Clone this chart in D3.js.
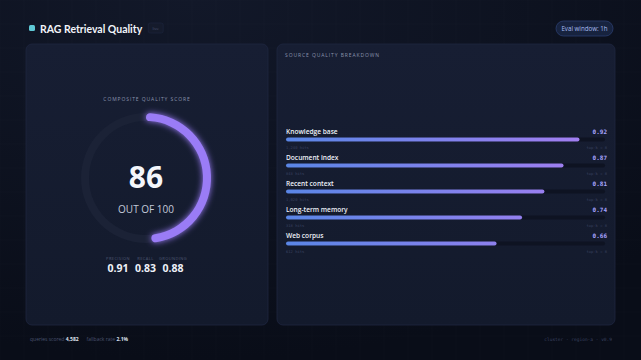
<!DOCTYPE html>
<meta charset="utf-8">
<style>
  html, body {
    margin: 0;
    padding: 0;
    background: #0a0e1a;
    overflow: hidden;
  }

  svg {
    display: block;
    font-family: "Open Sans", "Noto Sans", sans-serif;
  }

  .mono {
    font-family: "DejaVu Sans Mono", "Liberation Mono", monospace;
  }
</style>

<body>
  <svg width="641" height="360"></svg>
</body>
<script src="https://d3js.org/d3.v7.min.js"></script>
<script>
  // data
  var sources = ["Knowledge base", "Document index", "Recent context", "Long-term memory", "Web corpus"];
  var scores = [0.92, 0.87, 0.81, 0.74, 0.66];
  var hits = ["1,240 hits", "843 hits", "1,020 hits", "318 hits", "612 hits"];
  var topk = ["top-k = 8", "top-k = 8", "top-k = 8", "top-k = 8", "top-k = 8"];
  var composite = 86;
  var subLabels = ["PRECISION", "RECALL", "GROUNDING"];
  var subValues = [0.91, 0.83, 0.88];

  var svg = d3.select("svg");
  var defs = svg.append("defs");

  // background
  var bg = defs.append("radialGradient").attr("id", "bg")
    .attr("cx", "30%").attr("cy", "0%").attr("r", "100%");
  bg.append("stop").attr("offset", "0%").attr("stop-color", "#121829");
  bg.append("stop").attr("offset", "100%").attr("stop-color", "#090d18");
  svg.append("rect").attr("width", 641).attr("height", 360).attr("fill", "url(#bg)");

  var grid = svg.append("g").attr("stroke", "#ffffff").attr("stroke-opacity", 0.018);
  d3.range(0, 641, 24).forEach(function (x) {
    grid.append("line").attr("x1", x).attr("x2", x).attr("y1", 0).attr("y2", 360);
  });
  d3.range(0, 360, 24).forEach(function (y) {
    grid.append("line").attr("x1", 0).attr("x2", 641).attr("y1", y).attr("y2", y);
  });

  // header
  svg.append("rect").attr("x", 29).attr("y", 25).attr("width", 6).attr("height", 6).attr("rx", 1.5)
    .attr("fill", "#5fc9d6");
  var title = svg.append("text").attr("x", 40).attr("y", 32.5).attr("fill", "#f2f4fa")
    .attr("font-family", "Lato, sans-serif")
    .attr("font-size", 10.5).attr("font-weight", 700).text("RAG Retrieval Quality");
  var tEnd = 40 + title.node().getComputedTextLength() + 6;
  svg.append("rect").attr("x", tEnd).attr("y", 23).attr("width", 15).attr("height", 10).attr("rx", 2)
    .attr("fill", "#151b2c").attr("stroke", "#1f2740").attr("stroke-width", 0.6);
  svg.append("text").attr("x", tEnd + 7.5).attr("y", 30).attr("text-anchor", "middle").attr("fill", "#4a5370")
    .attr("font-size", 4).text("live");

  svg.append("rect").attr("x", 556).attr("y", 21).attr("width", 57).attr("height", 15).attr("rx", 7.5)
    .attr("fill", "#17233f").attr("stroke", "#2b3e6e").attr("stroke-width", 0.8);
  svg.append("text").attr("x", 584.5).attr("y", 31).attr("text-anchor", "middle").attr("fill", "#a9bdf0")
    .attr("font-size", 6.2).text("Eval window: 1h");

  // panels
  var pg = defs.append("linearGradient").attr("id", "panel").attr("x1", 0).attr("y1", 0).attr("x2", 0).attr("y2", 1);
  pg.append("stop").attr("offset", "0%").attr("stop-color", "#171e33");
  pg.append("stop").attr("offset", "100%").attr("stop-color", "#131a2c");
  [[26, 44, 242, 281], [277, 44, 338, 281]].forEach(function (p) {
    svg.append("rect").attr("x", p[0]).attr("y", p[1]).attr("width", p[2]).attr("height", p[3]).attr("rx", 6)
      .attr("fill", "url(#panel)").attr("stroke", "#1e2640").attr("stroke-width", 0.8);
  });

  // gauge
  var glow = defs.append("filter").attr("id", "glow").attr("x", "-50%").attr("y", "-50%")
    .attr("width", "200%").attr("height", "200%");
  glow.append("feGaussianBlur").attr("stdDeviation", 3).attr("result", "b");
  var fm = glow.append("feMerge");
  fm.append("feMergeNode").attr("in", "b");
  fm.append("feMergeNode").attr("in", "SourceGraphic");

  var cx = 146, cy = 178, r = 61;
  svg.append("text").attr("x", cx + 1).attr("y", 101).attr("text-anchor", "middle").attr("fill", "#8a93ad")
    .attr("font-size", 5).attr("letter-spacing", 0.9).text("COMPOSITE QUALITY SCORE");

  var angle = d3.scaleLinear().domain([0, 100]).range([0, Math.PI * 1.13]);
  var arc = d3.arc().innerRadius(r - 4).outerRadius(r + 4).cornerRadius(4);
  var gg = svg.append("g").attr("transform", "translate(" + cx + "," + cy + ")");
  gg.append("path").attr("d", arc({ startAngle: 0, endAngle: 2 * Math.PI })).attr("fill", "#1b2236");
  gg.append("path").attr("d", arc({ startAngle: 0, endAngle: angle(composite) }))
    .attr("fill", "#9a7cf6").attr("filter", "url(#glow)");

  gg.append("text").attr("y", 10).attr("text-anchor", "middle").attr("fill", "#f4f6fb")
    .attr("font-size", 30).attr("font-weight", 700).text(composite);
  gg.append("text").attr("y", 35).attr("text-anchor", "middle").attr("fill", "#c3c9da")
    .attr("font-size", 10).text("OUT OF 100");

  var subX = d3.scalePoint().domain(subLabels).range([118, 173]);
  subLabels.forEach(function (l, i) {
    svg.append("text").attr("x", subX(l)).attr("y", 260).attr("text-anchor", "middle").attr("fill", "#4f5873")
      .attr("font-size", 4).attr("letter-spacing", 0.4).text(l);
    svg.append("text").attr("x", subX(l)).attr("y", 272).attr("text-anchor", "middle").attr("fill", "#eef1f8")
      .attr("font-size", 10.5).attr("font-weight", 700).text(subValues[i].toFixed(2));
  });

  // breakdown
  svg.append("text").attr("x", 285).attr("y", 57).attr("fill", "#8a93ad")
    .attr("font-size", 5).attr("letter-spacing", 0.9).text("SOURCE QUALITY BREAKDOWN");

  var bgGrad = defs.append("linearGradient").attr("id", "bar").attr("gradientUnits", "userSpaceOnUse")
    .attr("x1", 286).attr("x2", 600).attr("y1", 0).attr("y2", 0);
  bgGrad.append("stop").attr("offset", "0%").attr("stop-color", "#5a86e6");
  bgGrad.append("stop").attr("offset", "100%").attr("stop-color", "#a67ef2");

  var x = d3.scaleLinear().domain([0, 1]).range([286, 605]);
  var y = d3.scaleBand().domain(sources).range([126, 256]);

  var rows = svg.selectAll(".row").data(sources).enter().append("g")
    .attr("class", "row")
    .attr("transform", function (d) { return "translate(0," + y(d) + ")"; });

  rows.append("text").attr("x", 286).attr("y", 8).attr("fill", "#eef1f8")
    .attr("font-size", 6.6).attr("font-weight", 600).text(function (d) { return d; });
  rows.append("text").attr("class", "mono").attr("x", 607).attr("y", 8).attr("text-anchor", "end")
    .attr("fill", "#a8a4ff").attr("font-size", 6).attr("font-weight", 700)
    .text(function (d, i) { return scores[i].toFixed(2); });
  rows.append("rect").attr("x", x(0)).attr("y", 11.5).attr("width", x(1) - x(0)).attr("height", 4).attr("rx", 2)
    .attr("fill", "#0e1322");
  rows.append("rect").attr("x", x(0)).attr("y", 11.5).attr("height", 4).attr("rx", 2)
    .attr("width", function (d, i) { return x(scores[i]) - x(0); })
    .attr("fill", "url(#bar)");
  rows.append("text").attr("class", "mono").attr("x", 286).attr("y", 22.5).attr("fill", "#3a4260")
    .attr("font-size", 3.8).text(function (d, i) { return hits[i]; });
  rows.append("text").attr("class", "mono").attr("x", 607).attr("y", 22.5).attr("text-anchor", "end")
    .attr("fill", "#3a4260").attr("font-size", 3.8).text(function (d, i) { return topk[i]; });

  // footer
  var fl = svg.append("text").attr("x", 30).attr("y", 341).attr("font-size", 5);
  fl.append("tspan").attr("fill", "#4a5370").text("queries scored ");
  fl.append("tspan").attr("fill", "#dfe3ee").attr("font-weight", 700).text("4,582");
  fl.append("tspan").attr("fill", "#4a5370").attr("dx", 8).text("fallback rate ");
  fl.append("tspan").attr("fill", "#dfe3ee").attr("font-weight", 700).text("2.1%");

  svg.append("text").attr("class", "mono").attr("x", 612).attr("y", 341).attr("text-anchor", "end")
    .attr("fill", "#3a4260").attr("font-size", 4.5).text("cluster  ·  region-a  ·  v0.9");
</script>
